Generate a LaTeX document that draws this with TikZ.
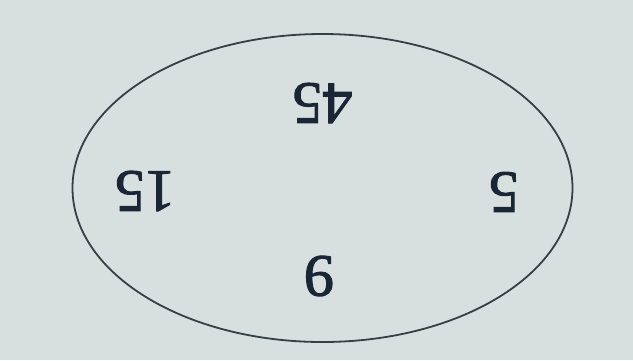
\documentclass[tikz,border=0pt]{standalone}
\usepackage{fontspec}
\setmainfont{Liberation Serif}
\newfontfamily\numfont[FakeBold=1.8]{Liberation Serif}
\definecolor{bgc}{HTML}{D8E0DF}
\definecolor{linec}{HTML}{354044}
\definecolor{txtc}{HTML}{1A2636}
\begin{document}
\begin{tikzpicture}[x=1pt,y=-1pt,
  num/.style={text=txtc,font=\numfont\fontsize{60}{64}\selectfont,rotate=180,inner sep=0pt,anchor=center}]
\fill[bgc] (0,0) rectangle (633,360);
\useasboundingbox (0,0) rectangle (633,360);
\draw[linec,line width=1.8pt] (322.5,188) ellipse [x radius=250, y radius=154];
\node[num] (n45) at (322.5,103) {45};
\node[num] (n15) at (145,191) {15};
\node[num] (n5) at (504,192) {5};
\node[num] (n9) at (319,276) {9};
\end{tikzpicture}
\end{document}
